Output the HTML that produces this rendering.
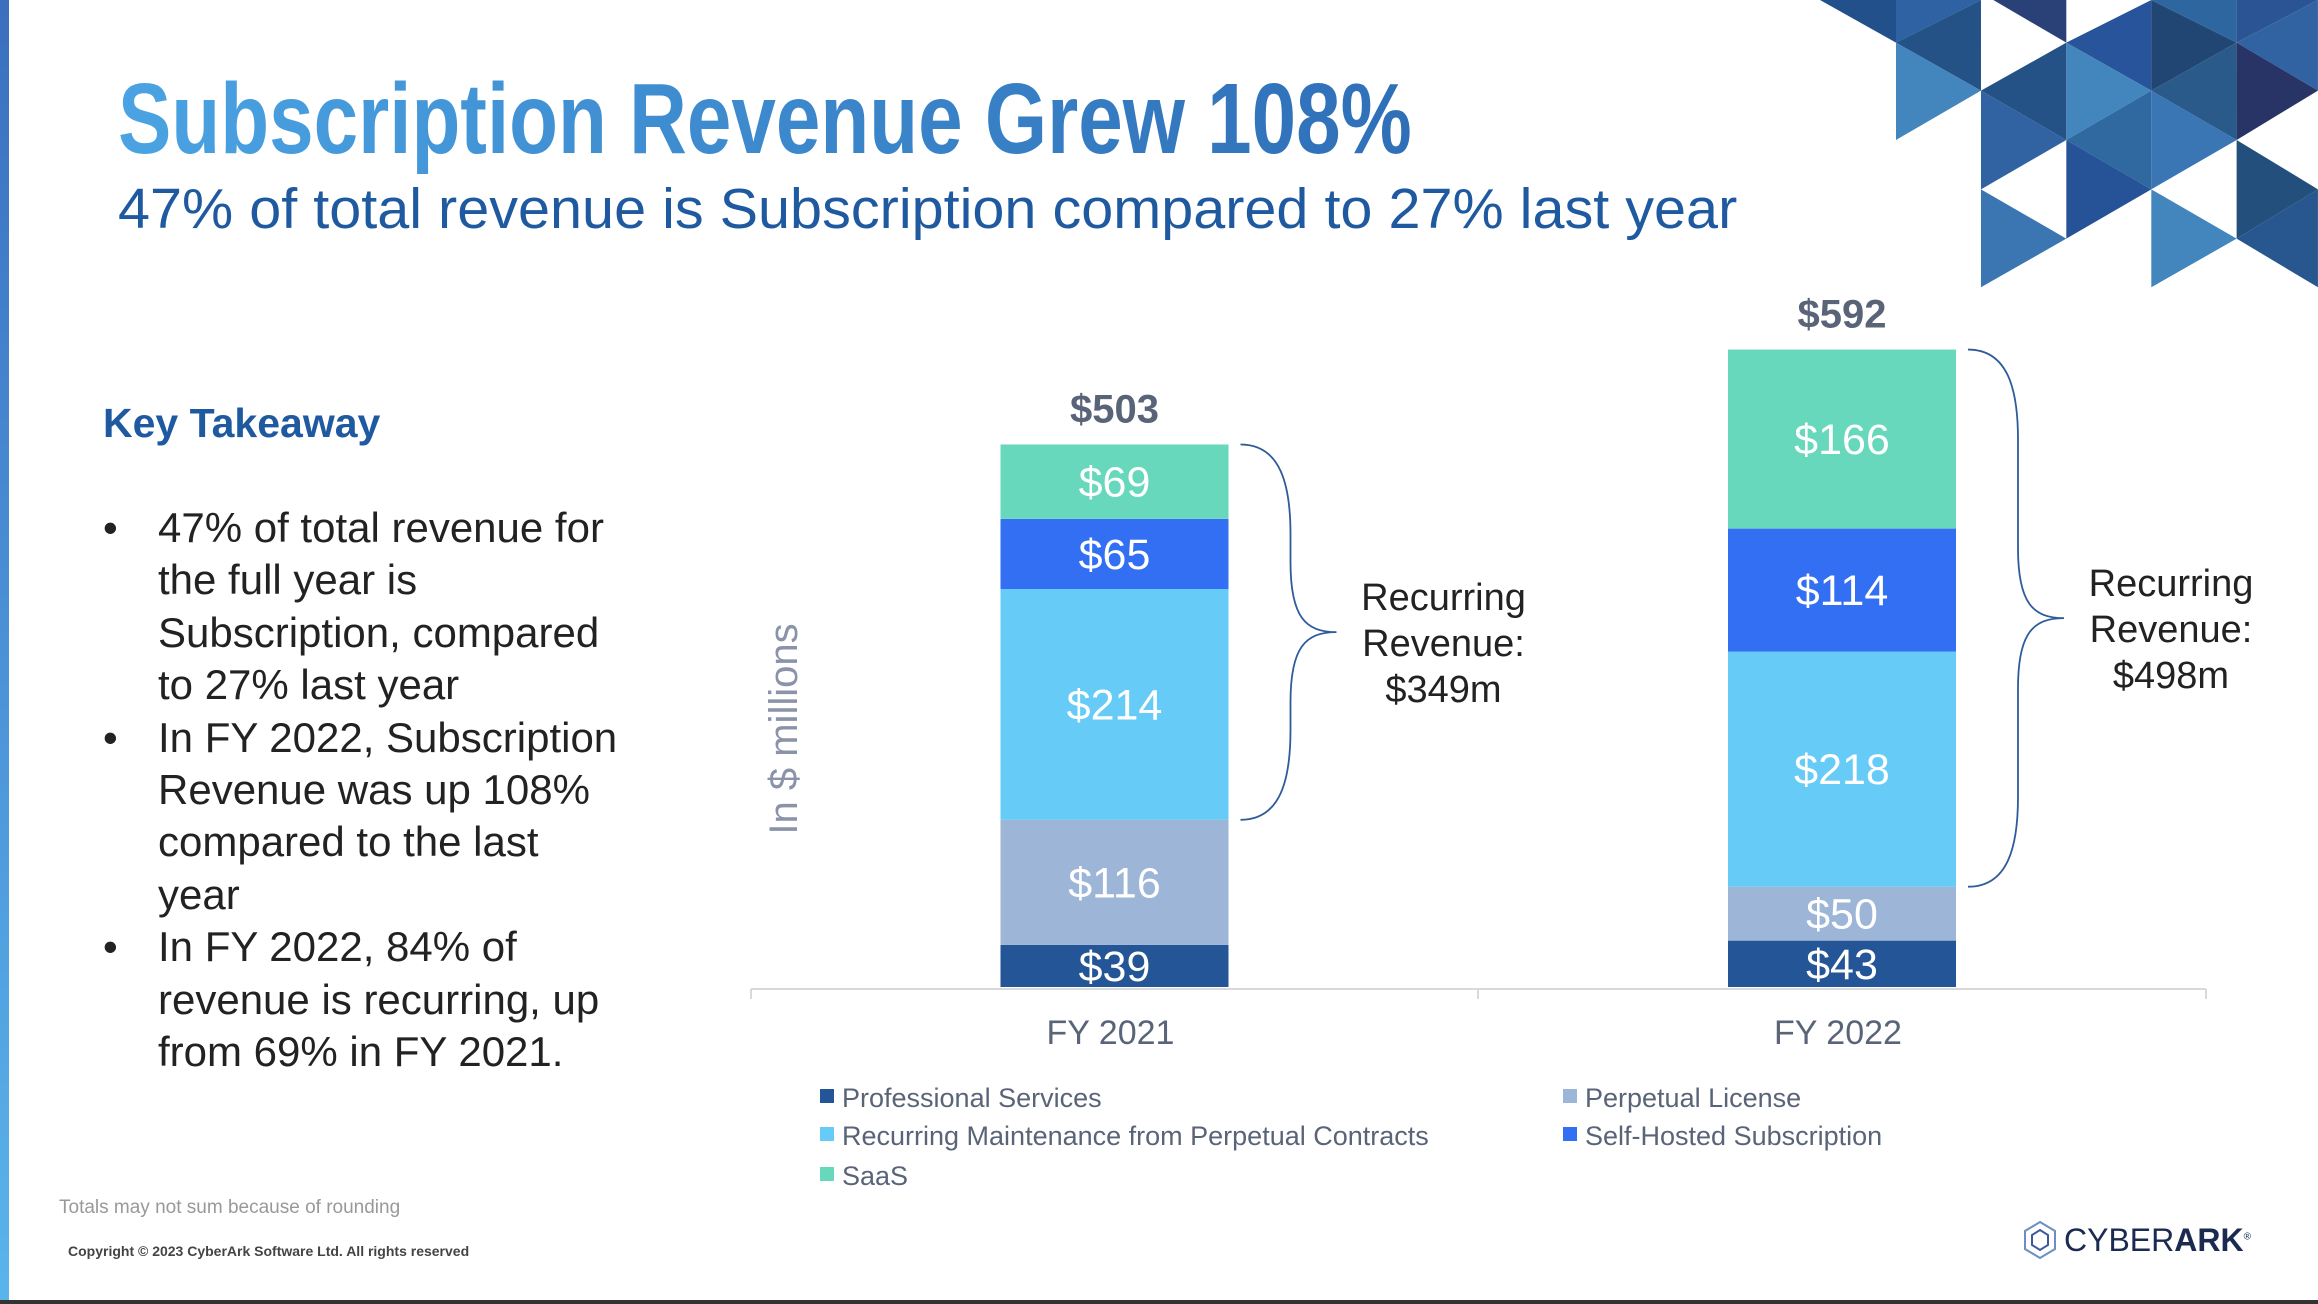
<!DOCTYPE html>
<html><head><meta charset="utf-8">
<style>
body{margin:0;width:2318px;height:1304px;position:relative;background:#fff;font-family:"Liberation Sans",sans-serif;overflow:hidden}
.abs{position:absolute;white-space:nowrap}
</style></head>
<body>
<div class="abs" style="left:0;top:0;width:9px;height:1300px;background:linear-gradient(#3b6fc0,#5ab4ec)"></div>
<div class="abs" style="left:0;top:1300px;width:2318px;height:4px;background:#333"></div>

<svg class="abs" style="left:1800px;top:0" width="518" height="300" viewBox="1800 0 518 300">
<g transform="translate(1800,0) scale(0.3333)">
<polygon points="60,0 288,128 288,0" fill="#22508a"/>
<polygon points="288,0 543,0 288,128" fill="#2f62a3"/>
<polygon points="288,128 543,0 543,272" fill="#245287"/>
<polygon points="288,128 543,272 288,420" fill="#4386bd"/>
<polygon points="580,0 799,128 799,0" fill="#2a4178"/>
<polygon points="543,272 799,128 799,420" fill="#245287"/>
<polygon points="543,272 799,420 543,568" fill="#3163a3"/>
<polygon points="543,568 799,716 543,862" fill="#3b76b3"/>
<polygon points="799,128 1054,0 1054,272" fill="#27549a"/>
<polygon points="799,128 1054,272 799,420" fill="#4386bd"/>
<polygon points="799,420 1054,272 1054,568" fill="#30699f"/>
<polygon points="799,420 1054,568 799,716" fill="#265298"/>
<polygon points="1054,0 1310,128 1054,272" fill="#214673"/>
<polygon points="1054,0 1310,0 1310,128" fill="#2e669f"/>
<polygon points="1054,272 1310,128 1310,420" fill="#2a5a8a"/>
<polygon points="1054,272 1310,420 1054,568" fill="#3a75b4"/>
<polygon points="1054,568 1310,716 1054,862" fill="#4386bd"/>
<polygon points="1310,0 1554,0 1310,128" fill="#2a5494"/>
<polygon points="1310,128 1554,0 1554,272" fill="#3163a3"/>
<polygon points="1310,128 1554,272 1310,420" fill="#283466"/>
<polygon points="1310,420 1554,568 1310,716" fill="#224f7b"/>
<polygon points="1310,716 1554,568 1554,862" fill="#27578e"/>
</g></svg>

<div class="abs" style="left:118px;top:62px;font-size:100px;font-weight:bold;transform:scaleX(0.80);transform-origin:left top;background:linear-gradient(90deg,#4aa3e2,#2f6fb8);-webkit-background-clip:text;color:transparent">Subscription Revenue Grew 108%</div>
<div class="abs" style="left:118px;top:176px;font-size:57px;color:#1f5aa0;transform:scaleX(1.01);transform-origin:left top">47% of total revenue is Subscription compared to 27% last year</div>

<div class="abs" style="left:103px;top:400px;font-size:41px;font-weight:bold;color:#1f5aa0">Key Takeaway</div>
<div class="abs" style="left:103px;top:502px;font-size:42px;line-height:52.4px;color:#222;white-space:normal;width:520px">
<div style="position:relative;padding-left:55px">
<span style="position:absolute;left:0">•</span>47% of total revenue for the full year is Subscription, compared to 27% last year</div>
<div style="position:relative;padding-left:55px">
<span style="position:absolute;left:0">•</span>In FY 2022, Subscription Revenue was up 108% compared to the last year</div>
<div style="position:relative;padding-left:55px">
<span style="position:absolute;left:0">•</span>In FY 2022, 84% of revenue is recurring, up from 69% in FY 2021.</div>
</div>

<svg id="chart" class="abs" style="left:0;top:0" width="2318" height="1304"></svg>

<div class="abs" style="left:59px;top:1197px;font-size:19px;color:#999">Totals may not sum because of rounding</div>
<div class="abs" style="left:68px;top:1243px;font-size:14px;color:#444;font-weight:bold">Copyright © 2023 CyberArk Software Ltd. All rights reserved</div>
<div class="abs" style="left:2022px;top:1220px;height:40px;display:flex;align-items:center">
<svg width="36" height="40" viewBox="0 0 36 40"><polygon points="18,2 33,11 33,29 18,38 3,29 3,11" fill="none" stroke="#6a8fc8" stroke-width="2"/><polygon points="18,10 26,15 26,25 18,30 10,25 10,15" fill="none" stroke="#3a5a9a" stroke-width="2"/></svg>
<span style="font-size:32px;color:#1b2a50;margin-left:6px">CYBER<b>ARK</b><sup style="font-size:10px">®</sup></span>
</div>

<script>
const categories = ["FY 2021","FY 2022"];
const seriesNames = ["Professional Services","Perpetual License","Recurring Maintenance from Perpetual Contracts","Self-Hosted Subscription","SaaS"];
const professional = [39,43];
const perpetual = [116,50];
const maintenance = [214,218];
const selfHosted = [65,114];
const saas = [69,166];
const totals = ["$503","$592"];
const recurringLabels = ["$349m","$498m"];
const colors = ["#245596","#9db5d6","#66ccf7","#336ff2","#67d8bc"];
const series = [professional,perpetual,maintenance,selfHosted,saas];

const svg = document.getElementById('chart');
const NS = "http://www.w3.org/2000/svg";
const baseY = 987, pxPerUnit = 1.0786;
const y = v => baseY - v * pxPerUnit;
const xCenter = i => 1114.5 + i * 727.5;
const barW = 228;
function mk(tag, attrs, parent){const e=document.createElementNS(NS,tag);for(const k in attrs)e.setAttribute(k,attrs[k]);(parent||svg).appendChild(e);return e;}

const axis = mk('line',{x1:751,x2:2206,y1:baseY+2,y2:baseY+2,stroke:'#d9d9d9','stroke-width':2});


[751,1478,2206].forEach(tx=>{const t=mk('line',{x1:tx,x2:tx,y1:baseY+2,y2:baseY+12,stroke:'#d9d9d9','stroke-width':2});

});

categories.forEach((c,i)=>{
  let cum=0;
  series.forEach((s,k)=>{
    const v=s[i];
    const r=mk('rect',{x:xCenter(i)-barW/2,y:y(cum+v),width:barW,height:v*pxPerUnit,fill:colors[k]});
    
    
    const t=mk('text',{x:xCenter(i),y:y(cum+v/2)+15,'text-anchor':'middle','font-size':43,fill:'#fff'});
    t.textContent='$'+v;
    
    
    cum+=v;
  });
  const tot=mk('text',{x:xCenter(i),y:y(cum)-22,'text-anchor':'middle','font-size':40,'font-weight':'bold',fill:'#5a6478'});
  tot.textContent=totals[i];
  
  
  const cl=mk('text',{x:xCenter(i)-4,y:1044,'text-anchor':'middle','font-size':34,fill:'#5a6478'});
  cl.textContent=c;
  
  
  const bot=y(professional[i]+perpetual[i]), top=y(cum);
  const bx=xCenter(i)+barW/2+12, mid=(top+bot)/2, v=50;
  const d=`M${bx},${top} C${bx+40},${top} ${bx+v},${top+40} ${bx+v},${top+90} L${bx+v},${mid-70} C${bx+v},${mid-15} ${bx+v+15},${mid} ${bx+96},${mid} C${bx+v+15},${mid} ${bx+v},${mid+15} ${bx+v},${mid+70} L${bx+v},${bot-90} C${bx+v},${bot-40} ${bx+40},${bot} ${bx},${bot}`;
  const br=mk('path',{d:d,fill:'none',stroke:'#2f5b9a','stroke-width':1.8});
  
  
  const lx=bx+203, lines=['Recurring','Revenue:',recurringLabels[i]];
  lines.forEach((ln,j)=>{const t=mk('text',{x:lx,y:mid-22+j*46,'text-anchor':'middle','font-size':38,fill:'#222'});
  t.textContent=ln;
  
  });
});

const yt=mk('text',{transform:'translate(797,729) rotate(-90)','text-anchor':'middle','font-size':40,fill:'#8a93a8'});
yt.textContent='In $ millions';



const legPos=[[820,1097],[1563,1097],[820,1135],[1563,1135],[820,1175]];
const legOrder=[0,1,2,3,4];
legOrder.forEach((k,j)=>{
  const [lx,ly]=legPos[j];
  const g=mk('g',{});
  
  
  mk('rect',{x:lx,y:ly-8,width:14,height:14,fill:colors[k]},g);
  const t=mk('text',{x:lx+22,y:ly+10,'font-size':27,fill:'#5a6478'},g);
  t.textContent=seriesNames[k];
});
</script>
</body></html>
